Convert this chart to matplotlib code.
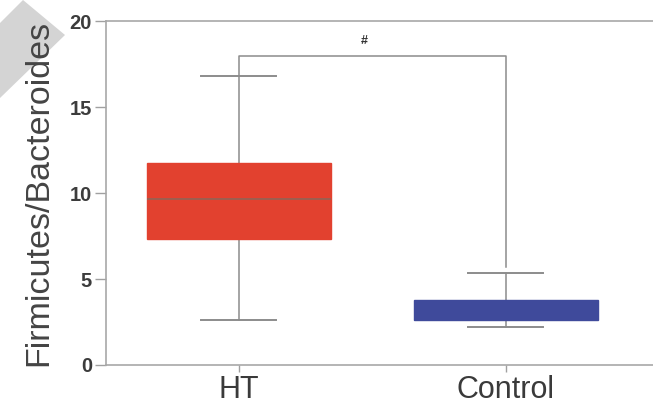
import matplotlib.pyplot as plt
from matplotlib.patches import Polygon

# box statistics
groups = ['HT', 'Control']
whislo = [2.6, 2.2]
q1 = [7.35, 2.6]
med = [9.65, 2.6]
q3 = [11.75, 3.8]
whishi = [16.8, 5.35]
fills = ['#e2412f', '#3f4a9b']

bracket_y = 18.0
bracket_ends = [16.8, 5.7]
sig_mark = '#'

plt.rcParams['font.family'] = ['Liberation Sans', 'DejaVu Sans']

fig = plt.figure(figsize=(6.53, 4.05), dpi=100)
ax = fig.add_axes([0.162, 0.099, 0.838, 0.848])

stats = []
for i, g in enumerate(groups):
    stats.append({'label': g, 'whislo': whislo[i], 'q1': q1[i], 'med': med[i],
                  'q3': q3[i], 'whishi': whishi[i], 'fliers': []})

line_c = '#8c8c8c'
bp = ax.bxp(stats, positions=[1, 2], widths=0.69, capwidths=0.28,
            showfliers=False, patch_artist=True,
            whiskerprops=dict(color=line_c, lw=1.1),
            capprops=dict(color=line_c, lw=1.4),
            medianprops=dict(color='#8a6658', lw=1.1),
            boxprops=dict(lw=1.0))
for patch, c in zip(bp['boxes'], fills):
    patch.set_facecolor(c)
    patch.set_edgecolor(c)
    patch.set_zorder(3)
bp['medians'][1].set_color(fills[1])
for m in bp['medians']:
    m.set_zorder(4)

# significance bracket
ax.plot([1, 1, 2, 2], [bracket_ends[0], bracket_y, bracket_y, bracket_ends[1]],
        color=line_c, lw=1.1)
ax.text(1.47, bracket_y + 0.5, sig_mark, ha='center', va='bottom',
        fontsize=9, fontweight='bold', color='#333333')

ax.set_xlim(0.502, 2.551)
ax.set_ylim(0, 20)
ax.set_yticks([0, 5, 10, 15, 20])
ax.set_xticks([1, 2])
ax.set_xticklabels(groups, fontsize=22, color='#3a3a3a')
for lab in ax.get_yticklabels():
    lab.set_fontweight('bold')
    lab.set_fontsize(14.5)
    lab.set_color('#3c3c3c')
ax.tick_params(axis='y', length=8, width=1, color='#a0a0a0', pad=2)
ax.tick_params(axis='x', length=5, width=1, color='#a0a0a0', pad=2)
ax.set_ylabel('Firmicutes/Bacteroides', fontsize=24.5, color='#444444', labelpad=11)

for s in ['left', 'bottom', 'top']:
    ax.spines[s].set_color('#a8a8a8')
    ax.spines[s].set_linewidth(1.2)
ax.spines['right'].set_visible(False)

# grey corner band, behind everything
fig.patches.append(Polygon([(23, 405), (65, 370), (0, 307), (0, 382)],
                           closed=True, transform=None, facecolor='#d4d4d4',
                           edgecolor='none', zorder=-1))

fig.savefig('out.png', dpi=100)
